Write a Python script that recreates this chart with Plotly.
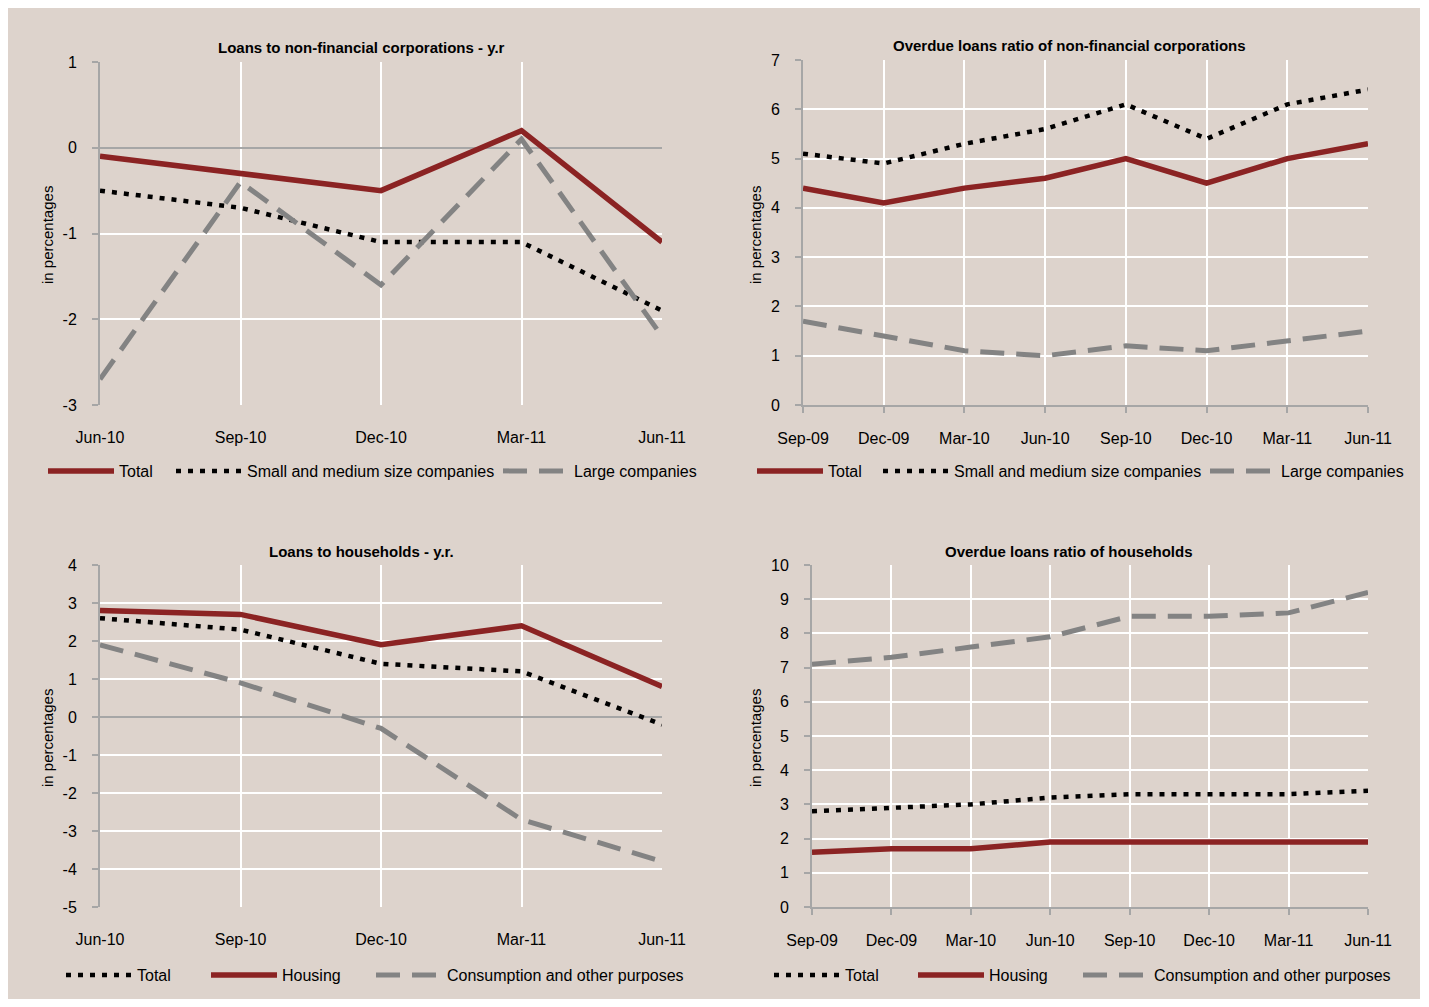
import plotly.graph_objects as go

# ---------------- data ----------------
q_short = ["Jun-10", "Sep-10", "Dec-10", "Mar-11", "Jun-11"]
q_long = ["Sep-09", "Dec-09", "Mar-10", "Jun-10", "Sep-10", "Dec-10", "Mar-11", "Jun-11"]

# Panel 1: Loans to non-financial corporations - y.r
nfc_total = [-0.1, -0.3, -0.5, 0.2, -1.1]
nfc_sme = [-0.5, -0.7, -1.1, -1.1, -1.9]
nfc_large = [-2.7, -0.4, -1.6, 0.1, -2.2]

# Panel 2: Overdue loans ratio of non-financial corporations
od_nfc_total = [4.4, 4.1, 4.4, 4.6, 5.0, 4.5, 5.0, 5.3]
od_nfc_sme = [5.1, 4.9, 5.3, 5.6, 6.1, 5.4, 6.1, 6.4]
od_nfc_large = [1.7, 1.4, 1.1, 1.0, 1.2, 1.1, 1.3, 1.5]

# Panel 3: Loans to households - y.r.
hh_total = [2.6, 2.3, 1.4, 1.2, -0.2]
hh_housing = [2.8, 2.7, 1.9, 2.4, 0.8]
hh_consumption = [1.9, 0.9, -0.3, -2.7, -3.8]

# Panel 4: Overdue loans ratio of households
od_hh_total = [2.8, 2.9, 3.0, 3.2, 3.3, 3.3, 3.3, 3.4]
od_hh_housing = [1.6, 1.7, 1.7, 1.9, 1.9, 1.9, 1.9, 1.9]
od_hh_consumption = [7.1, 7.3, 7.6, 7.9, 8.5, 8.5, 8.6, 9.2]

# y tick labels (hyphen minus as in the original)
yt1 = [1, 0, -1, -2, -3]
yt2 = [0, 1, 2, 3, 4, 5, 6, 7]
yt3 = [4, 3, 2, 1, 0, -1, -2, -3, -4, -5]
yt4 = [0, 1, 2, 3, 4, 5, 6, 7, 8, 9, 10]

titles = ["Loans to non-financial corporations - y.r",
          "Overdue loans ratio of non-financial corporations",
          "Loans to households - y.r.",
          "Overdue loans ratio of households"]
ylabel = "in percentages"

# ---------------- style ----------------
# page body has an 8px margin; figure covers the beige panel area
OX, OY = 8, 8
W, H = 1412, 991
BG = "#ddd3cc"
RED = "#8b2323"
GREY = "#838383"
AXIS = "#a6a6a6"
FONT = "Liberation Sans, Arial, sans-serif"

S_RED = dict(color=RED, width=5.5)
S_DOT = dict(color="black", width=4.5, dash="5px,7px")
S_DASH = dict(color=GREY, width=5, dash="24px,12px")


def px(x):
    return (x - OX) / W


def py(y):
    return 1 - (y - OY) / H


# legend entry positions (left edge of the sample line, page px)
panels = [
    dict(x=(100, 662), y=(62, 405), yr=(-3, 1), yt=yt1, cats=q_short, zero=True,
         series=[("Total", nfc_total, S_RED, 48),
                 ("Small and medium size companies", nfc_sme, S_DOT, 176),
                 ("Large companies", nfc_large, S_DASH, 503)],
         title_xy=(361, 48), leg_y=471, ylab_xy=(47, 235)),
    dict(x=(803, 1368), y=(60, 405), yr=(0, 7), yt=yt2, cats=q_long, zero=False,
         series=[("Total", od_nfc_total, S_RED, 757),
                 ("Small and medium size companies", od_nfc_sme, S_DOT, 883),
                 ("Large companies", od_nfc_large, S_DASH, 1210)],
         title_xy=(1069, 46), leg_y=471, ylab_xy=(755, 235)),
    dict(x=(100, 662), y=(565, 907), yr=(-5, 4), yt=yt3, cats=q_short, zero=True,
         series=[("Total", hh_total, S_DOT, 66),
                 ("Housing", hh_housing, S_RED, 211),
                 ("Consumption and other purposes", hh_consumption, S_DASH, 376)],
         title_xy=(361, 551), leg_y=975, ylab_xy=(47, 738)),
    dict(x=(812, 1368), y=(565, 907), yr=(0, 10), yt=yt4, cats=q_long, zero=False,
         series=[("Total", od_hh_total, S_DOT, 774),
                 ("Housing", od_hh_housing, S_RED, 918),
                 ("Consumption and other purposes", od_hh_consumption, S_DASH, 1083)],
         title_xy=(1069, 551), leg_y=975, ylab_xy=(755, 738)),
]

fig = go.Figure()
annotations = []
layout = {}
leg_count = 0

for i, p in enumerate(panels):
    n = i + 1
    xa = "x" if n == 1 else f"x{n}"
    ya = "y" if n == 1 else f"y{n}"
    for name, vals, style, lx in p["series"]:
        leg_count += 1
        leg = "legend" if leg_count == 1 else f"legend{leg_count}"
        fig.add_trace(go.Scatter(x=p["cats"], y=vals, name=name, mode="lines",
                                 line=style, xaxis=xa, yaxis=ya, legend=leg,
                                 showlegend=True))
        layout[leg] = dict(
            orientation="h", x=px(lx - 5), y=py(p["leg_y"]),
            xanchor="left", yanchor="middle", bgcolor="rgba(0,0,0,0)",
            font=dict(family=FONT, size=16, color="black"),
            itemwidth=66, itemclick=False, itemdoubleclick=False,
        )
    xkey = "xaxis" if n == 1 else f"xaxis{n}"
    ykey = "yaxis" if n == 1 else f"yaxis{n}"
    layout[xkey] = dict(
        domain=[px(p["x"][0]), px(p["x"][1])], anchor=ya,
        type="category", range=[0, len(p["cats"]) - 1],
        showgrid=True, gridcolor="white", gridwidth=1.5,
        showline=not p["zero"], linecolor=AXIS, linewidth=2,
        ticks="" if p["zero"] else "outside", ticklen=6, tickcolor=AXIS, tickwidth=1.5,
        ticklabelstandoff=21 if p["zero"] else 12,
        tickfont=dict(family=FONT, size=16, color="black"),
        zeroline=False, fixedrange=True, automargin=False,
    )
    layout[ykey] = dict(
        domain=[py(p["y"][1]), py(p["y"][0])], anchor=xa,
        range=list(p["yr"]),
        tickvals=p["yt"], ticktext=[str(v) for v in p["yt"]],
        showgrid=True, gridcolor="white", gridwidth=1.5,
        showline=True, linecolor=AXIS, linewidth=2,
        ticks="outside", ticklen=6, tickcolor=AXIS, tickwidth=1.5,
        ticklabelstandoff=12,
        tickfont=dict(family=FONT, size=16, color="black"),
        zeroline=p["zero"], zerolinecolor=AXIS, zerolinewidth=1.5,
        fixedrange=True, automargin=False,
    )
    annotations.append(dict(
        text=f"<b>{titles[i]}</b>", x=px(p["title_xy"][0]), y=py(p["title_xy"][1]),
        xref="paper", yref="paper", xanchor="center", yanchor="middle",
        showarrow=False, font=dict(family=FONT, size=15, color="black")))
    annotations.append(dict(
        text=ylabel, x=px(p["ylab_xy"][0]), y=py(p["ylab_xy"][1]),
        xref="paper", yref="paper", xanchor="center", yanchor="middle",
        textangle=-90, showarrow=False,
        font=dict(family=FONT, size=15, color="black")))

fig.update_layout(
    width=W, height=H, autosize=False,
    margin=dict(l=0, r=0, t=0, b=0, autoexpand=False),
    paper_bgcolor=BG, plot_bgcolor=BG,
    annotations=annotations,
    **layout,
)

fig.write_html("out.html", config={"displayModeBar": False})
